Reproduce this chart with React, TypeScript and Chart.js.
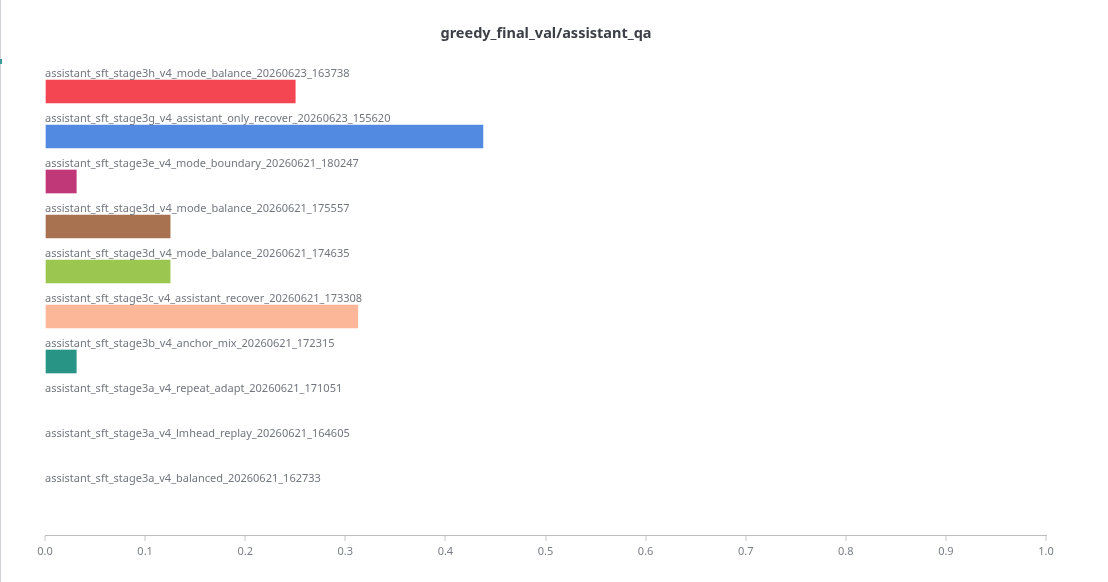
import React, { useEffect, useRef } from "react";
import { Chart, registerables } from "chart.js";

Chart.register(...registerables);

const TITLE = "greedy_final_val/assistant_qa";

const categories: string[] = [
  "assistant_sft_stage3h_v4_mode_balance_20260623_163738",
  "assistant_sft_stage3g_v4_assistant_only_recover_20260623_155620",
  "assistant_sft_stage3e_v4_mode_boundary_20260621_180247",
  "assistant_sft_stage3d_v4_mode_balance_20260621_175557",
  "assistant_sft_stage3d_v4_mode_balance_20260621_174635",
  "assistant_sft_stage3c_v4_assistant_recover_20260621_173308",
  "assistant_sft_stage3b_v4_anchor_mix_20260621_172315",
  "assistant_sft_stage3a_v4_repeat_adapt_20260621_171051",
  "assistant_sft_stage3a_v4_lmhead_replay_20260621_164605",
  "assistant_sft_stage3a_v4_balanced_20260621_162733",
];

const values: number[] = [0.25, 0.4375, 0.03125, 0.125, 0.125, 0.3125, 0.03125, 0, 0, 0];

const colors: string[] = [
  "#F44552",
  "#528AE2",
  "#C03877",
  "#A87150",
  "#9BC650",
  "#FBB797",
  "#289485",
  "#E8A33A",
  "#8E6BC9",
  "#5BB5C9",
];

const xTicks: number[] = [0, 0.1, 0.2, 0.3, 0.4, 0.5, 0.6, 0.7, 0.8, 0.9, 1.0];

const FONT = "'Noto Sans', 'Open Sans', sans-serif";

const titlePlugin = {
  id: "titleText",
  afterDraw(chart: any) {
    const ctx = chart.ctx;
    ctx.save();
    ctx.font = `bold 14.5px ${FONT}`;
    ctx.fillStyle = "#3d4047";
    ctx.textAlign = "center";
    ctx.textBaseline = "middle";
    ctx.fillText(TITLE, 546, 34);
    ctx.restore();
  },
};

const labelPlugin = {
  id: "barLabels",
  afterDatasetsDraw(chart: any) {
    const ctx = chart.ctx;
    const meta = chart.getDatasetMeta(0);
    ctx.save();
    ctx.font = `11px ${FONT}`;
    ctx.fillStyle = "#72767e";
    ctx.textAlign = "left";
    ctx.textBaseline = "alphabetic";
    meta.data.forEach((bar: any, i: number) => {
      const top = bar.y - bar.height / 2;
      ctx.fillText(categories[i], chart.chartArea.left, top - 3);
    });
    ctx.restore();
  },
};

export default function App() {
  const ref = useRef<HTMLCanvasElement | null>(null);

  useEffect(() => {
    if (!ref.current) return;
    const chart = new Chart(ref.current, {
      type: "bar",
      data: {
        datasets: [
          {
            data: categories.map((c, i) => ({ x: values[i], y: i })),
            backgroundColor: colors.map((c, i) => (values[i] > 0 ? c : "rgba(0,0,0,0)")),
            borderWidth: 0,
            barThickness: 23,
          },
        ],
      },
      options: {
        animation: false,
        responsive: false,
        indexAxis: "y",
        layout: { padding: { left: 45, right: 62, top: 60, bottom: 0 } },
        plugins: {
          legend: { display: false },
          tooltip: { enabled: false },
          title: { display: false },
        },
        scales: {
          y: {
            type: "linear",
            reverse: true,
            offset: false,
            min: -0.7,
            max: 9.8556,
            display: false,
          },
          x: {
            type: "linear",
            min: 0,
            max: 1,
            afterBuildTicks: (scale: any) => {
              scale.ticks = xTicks.map((v) => ({ value: v }));
            },
            afterFit: (scale: any) => {
              scale.height = 47;
            },
            ticks: {
              color: "#7a7e86",
              font: { family: FONT, size: 11 },
              padding: 4,
              callback: (v: any) => Number(v).toFixed(1),
            },
            grid: {
              display: true,
              drawOnChartArea: false,
              drawTicks: true,
              tickLength: 6,
              color: "#e2e2e2",
              lineWidth: 2,
            },
            border: { display: true, color: "#bdbdbd", width: 1 },
          },
        },
      },
      plugins: [labelPlugin, titlePlugin],
    } as any);
    return () => chart.destroy();
  }, []);

  return (
    <div style={{ position: "absolute", left: 0, top: 0, width: 1108, height: 582, background: "#fff" }}>
      <div style={{ position: "absolute", left: 0, top: 0, width: 1, height: 582, background: "#cfd3d7" }} />
      <div style={{ position: "absolute", left: 0, top: 59, width: 2, height: 5, background: "#3a9a9a" }} />
      <canvas ref={ref} width={1108} height={582} style={{ display: "block", width: 1108, height: 582 }} />
    </div>
  );
}
